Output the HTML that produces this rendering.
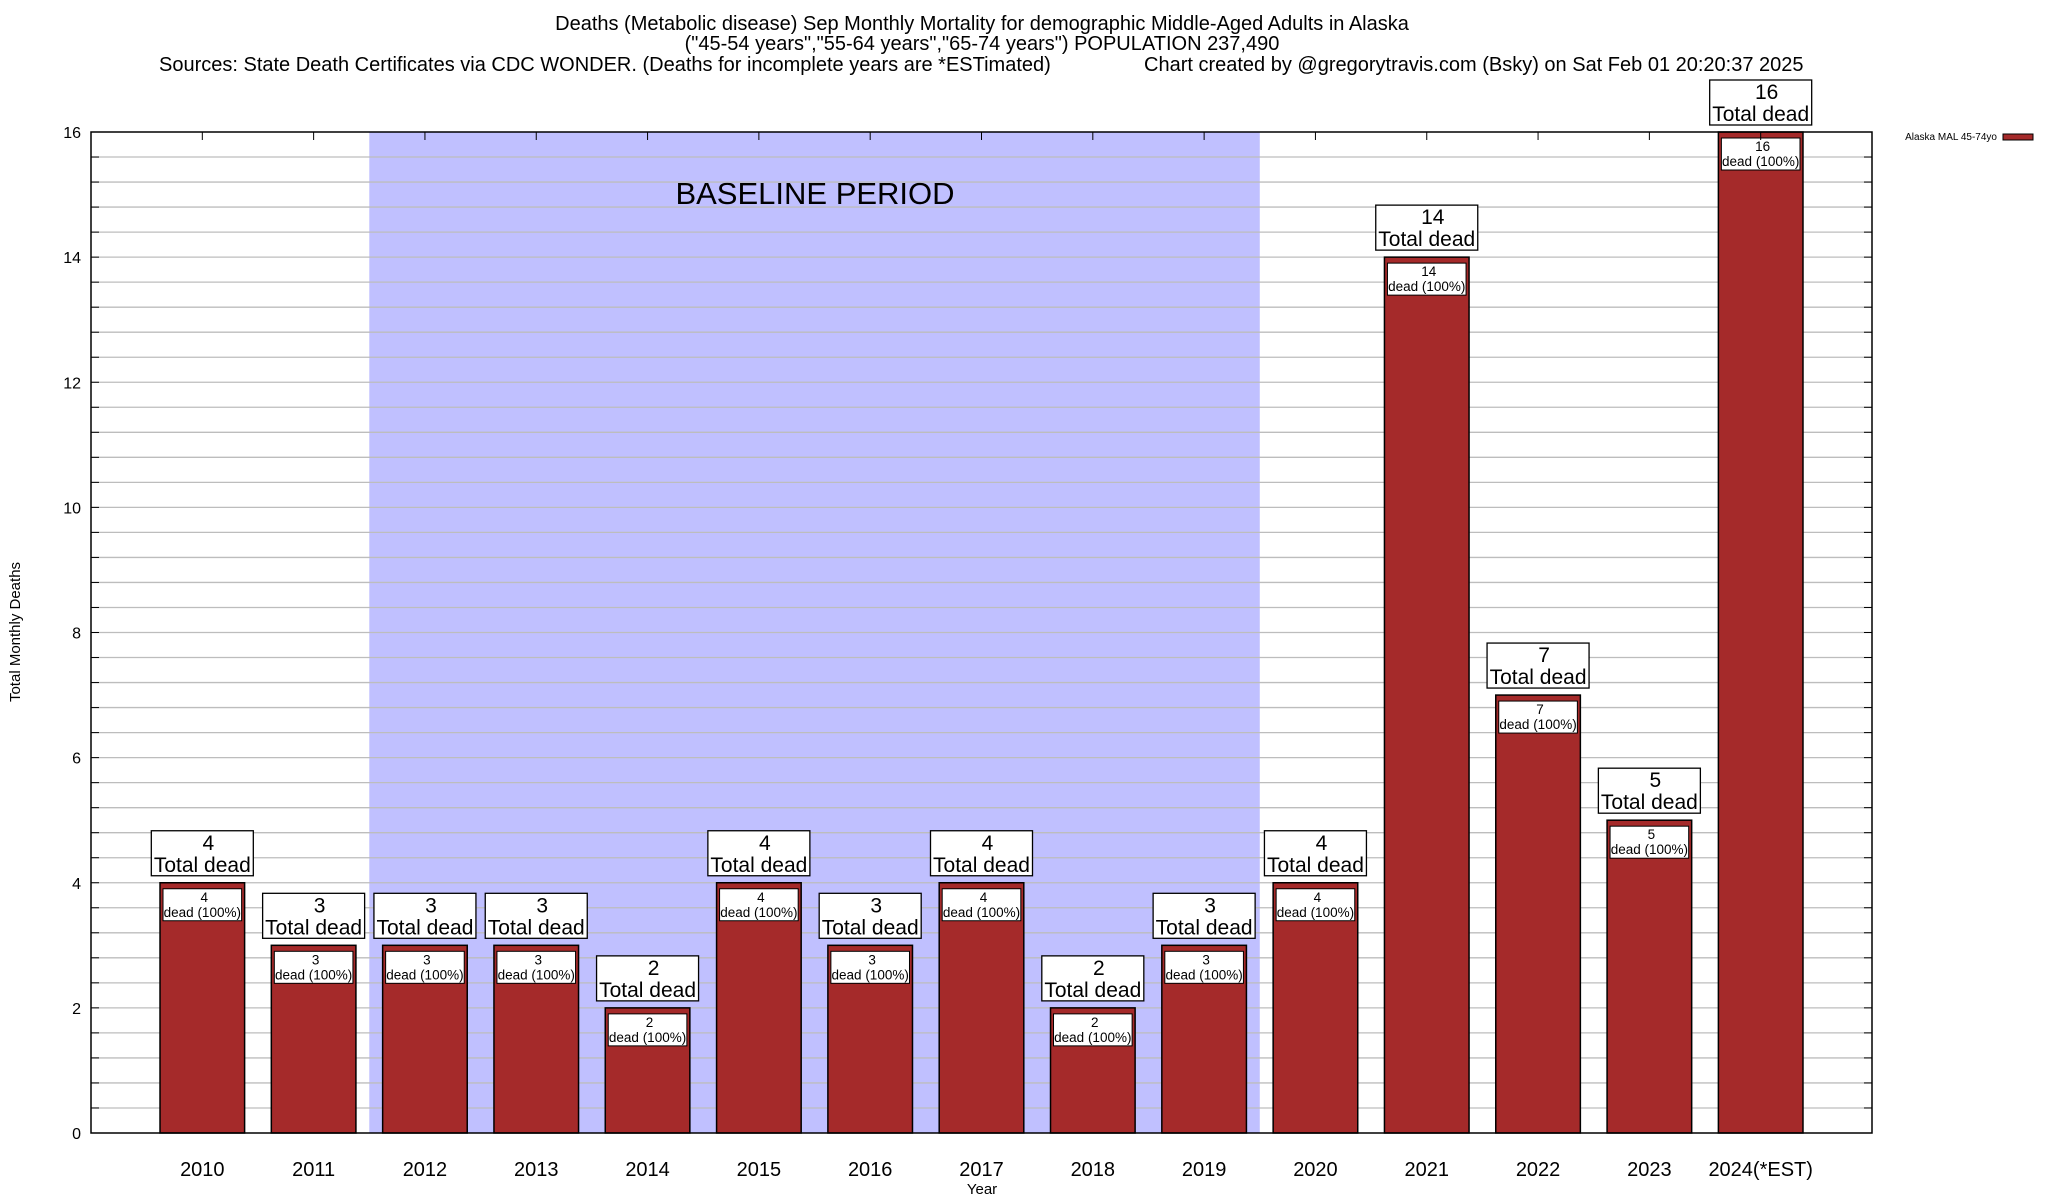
<!DOCTYPE html>
<html><head><meta charset="utf-8"><style>
html,body{margin:0;padding:0;background:#fff;}
svg{display:block;font-family:"Liberation Sans",Arial,sans-serif;}
</style></head><body>
<svg id="chart" width="2048" height="1200" viewBox="0 0 2048 1200">
<g>
<text x="982" y="30" font-size="20" text-anchor="middle">Deaths (Metabolic disease) Sep Monthly Mortality for demographic Middle-Aged Adults in Alaska</text>
<text x="982" y="50" font-size="20" text-anchor="middle">("45-54 years","55-64 years","65-74 years") POPULATION 237,490</text>
<text x="159" y="71" font-size="20">Sources: State Death Certificates via CDC WONDER. (Deaths for incomplete years are *ESTimated)</text>
<text x="1144" y="71" font-size="20">Chart created by @gregorytravis.com (Bsky) on Sat Feb 01 20:20:37 2025</text>
</g>
<g id="plot"></g>
<text x="20" y="632" font-size="15" text-anchor="middle" transform="rotate(-90 20 632)">Total Monthly Deaths</text>
<text x="982" y="1194" font-size="15" text-anchor="middle">Year</text>
<g>
<text x="1997" y="140" font-size="10" text-anchor="end">Alaska MAL 45-74yo</text>
<rect x="2003" y="134" width="30" height="6" fill="#a52a2a" stroke="#000" stroke-width="1"/>
</g>
</svg>
<script>
const categories = ["2010","2011","2012","2013","2014","2015","2016","2017","2018","2019","2020","2021","2022","2023","2024(*EST)"];
const values = [4,3,3,3,2,4,3,4,2,3,4,14,7,5,16];
const yTicks = [0,2,4,6,8,10,12,14,16];
const baselineStart = 1.5, baselineEnd = 9.5;

const NS = "http://www.w3.org/2000/svg";
const L = 91, R = 1872, T = 132, B = 1133;
const yMax = 16;
const xScale = i => L + (i + 1) * (R - L) / (categories.length + 1);
const yScale = v => B - v / yMax * (B - T);
const band = (R - L) / (categories.length + 1);
const barW = band * 0.76;
const g = document.getElementById('plot');
function mk(tag, attrs, parent) {
  const e = document.createElementNS(NS, tag);
  for (const k in attrs) e.setAttribute(k, attrs[k]);
  (parent || g).appendChild(e);
  return e;
}
const shade = mk('rect', {x: xScale(baselineStart), y: T, width: xScale(baselineEnd) - xScale(baselineStart), height: B - T, fill: '#c0c0ff'});


const bl = mk('text', {x: 815, y: 204, 'font-size': 31, 'text-anchor': 'middle'});
bl.textContent = 'BASELINE PERIOD';


for (let v = 0.4; v < yMax - 0.01; v += 0.4) {
  const y = yScale(v);
  const gl = mk('line', {x1: L, x2: R, y1: y, y2: y, stroke: '#bdbdbd', 'stroke-width': 1.3});
  
  
  mk('line', {x1: L, x2: L + 8, y1: y, y2: y, stroke: '#000'});
  mk('line', {x1: R - 8, x2: R, y1: y, y2: y, stroke: '#000'});
}
yTicks.forEach(v => {
  const t = mk('text', {x: 81, y: yScale(v) + 6, 'font-size': 16, 'text-anchor': 'end'});
  t.textContent = v;
  
  
});
categories.forEach((c, i) => {
  const cx = xScale(i), v = values[i];
  const top = yScale(v);
  const bar = mk('rect', {x: cx - barW / 2, y: top, width: barW, height: B - top, fill: '#a52a2a', stroke: '#000', 'stroke-width': 1.5});
  
  
  const ib = mk('rect', {x: cx - barW / 2 + 3, y: top + 6, width: barW - 6, height: 32, fill: '#fff', stroke: '#000', 'stroke-width': 1});
  
  
  const it1 = mk('text', {x: cx + 2, y: top + 19, 'font-size': 13.5, 'text-anchor': 'middle'});
  it1.textContent = v;
  
  
  const it2 = mk('text', {x: cx, y: top + 34, 'font-size': 13.5, 'text-anchor': 'middle'});
  it2.textContent = 'dead (100%)';
  
  
  const ob = mk('rect', {x: cx - 51, y: top - 52, width: 102, height: 45, fill: '#fff', stroke: '#000', 'stroke-width': 1.3});
  
  
  const o1 = mk('text', {x: cx + 6, y: top - 33, 'font-size': 21, 'text-anchor': 'middle'});
  o1.textContent = v;
  
  
  const o2 = mk('text', {x: cx, y: top - 11, 'font-size': 21, 'text-anchor': 'middle'});
  o2.textContent = 'Total dead';
  
  
  mk('line', {x1: cx, x2: cx, y1: T, y2: T + 8, stroke: '#000'});
  const xl = mk('text', {x: cx, y: 1176, 'font-size': 20, 'text-anchor': 'middle'});
  xl.textContent = c;
  
  
});
const frame = mk('rect', {x: L, y: T, width: R - L, height: B - T, fill: 'none', stroke: '#000', 'stroke-width': 1.5});


</script>
</body></html>
